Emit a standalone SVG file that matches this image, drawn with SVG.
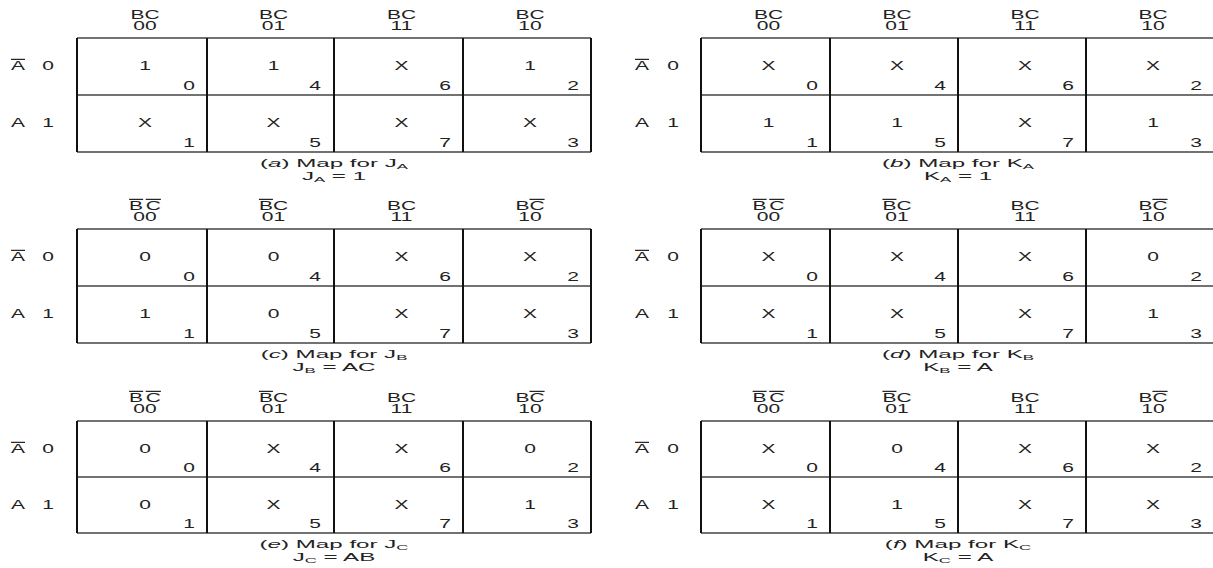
<svg xmlns="http://www.w3.org/2000/svg" width="1213" height="568" viewBox="0 0 1213 568">
<style>
text{font-family:"Liberation Sans",Arial,Helvetica,sans-serif;font-size:12px;fill:#222;text-anchor:middle}
text.s{text-anchor:start}
text.e{text-anchor:end}
text.c{font-size:11.5px}
.ol{text-decoration:overline}
.sub{font-size:8px}
.it{font-style:italic}
.v{stroke:#111;stroke-width:2;fill:none}
.h{stroke:#444;stroke-width:1.3;fill:none}
</style>
<rect width="1213" height="568" fill="#fff"/>

<g id="map-a">
<g class="grid"><path class="h" d="M77 38H591M77 95H592M77 152H591"/><path class="v" d="M77 38V152M207 38V152M334 38V152M463 38V152M591 38V152"/></g>
<text transform="translate(145,19) scale(1.75,1)">BC</text><text transform="translate(145,30) scale(1.75,1)">00</text>
<text transform="translate(273.5,19) scale(1.75,1)">BC</text><text transform="translate(273.5,30) scale(1.75,1)">01</text>
<text transform="translate(401.5,19) scale(1.75,1)">BC</text><text transform="translate(401.5,30) scale(1.75,1)">11</text>
<text transform="translate(530,19) scale(1.75,1)">BC</text><text transform="translate(530,30) scale(1.75,1)">10</text>
<text class="s" transform="translate(11,70) scale(1.75,1)"><tspan class="ol">A</tspan></text><text transform="translate(48,70) scale(1.75,1)">0</text>
<text class="s" transform="translate(11,127) scale(1.75,1)">A</text><text transform="translate(48,127) scale(1.75,1)">1</text>
<text transform="translate(145,70) scale(1.75,1)">1</text><text transform="translate(273.5,70) scale(1.75,1)">1</text><text transform="translate(401.5,70) scale(1.75,1)">X</text><text transform="translate(530,70) scale(1.75,1)">1</text>
<text transform="translate(145,127) scale(1.75,1)">X</text><text transform="translate(273.5,127) scale(1.75,1)">X</text><text transform="translate(401.5,127) scale(1.75,1)">X</text><text transform="translate(530,127) scale(1.75,1)">X</text>
<text class="e" transform="translate(195,90) scale(1.75,1)">0</text><text class="e" transform="translate(321,90) scale(1.75,1)">4</text><text class="e" transform="translate(451,90) scale(1.75,1)">6</text><text class="e" transform="translate(579,90) scale(1.75,1)">2</text>
<text class="e" transform="translate(195,147) scale(1.75,1)">1</text><text class="e" transform="translate(321,147) scale(1.75,1)">5</text><text class="e" transform="translate(451,147) scale(1.75,1)">7</text><text class="e" transform="translate(579,147) scale(1.75,1)">3</text>
<text class="c" transform="translate(334,167) scale(2.1,1)">(<tspan class="it">a</tspan>) Map for J<tspan class="sub" dy="2">A</tspan></text>
<text class="c" transform="translate(334,180) scale(2.1,1)">J<tspan class="sub" dy="2">A</tspan><tspan dy="-2"> = 1</tspan></text>
</g>

<g id="map-b">
<g class="grid"><path class="h" d="M701 38H1213M701 95H1213M701 152H1213"/><path class="v" d="M701 38V152M830 38V152M958 38V152M1086 38V152"/></g>
<text transform="translate(768.5,19) scale(1.75,1)">BC</text><text transform="translate(768.5,30) scale(1.75,1)">00</text>
<text transform="translate(897,19) scale(1.75,1)">BC</text><text transform="translate(897,30) scale(1.75,1)">01</text>
<text transform="translate(1025,19) scale(1.75,1)">BC</text><text transform="translate(1025,30) scale(1.75,1)">11</text>
<text transform="translate(1153,19) scale(1.75,1)">BC</text><text transform="translate(1153,30) scale(1.75,1)">10</text>
<text class="s" transform="translate(635,70) scale(1.75,1)"><tspan class="ol">A</tspan></text><text transform="translate(673,70) scale(1.75,1)">0</text>
<text class="s" transform="translate(635,127) scale(1.75,1)">A</text><text transform="translate(673,127) scale(1.75,1)">1</text>
<text transform="translate(768.5,70) scale(1.75,1)">X</text><text transform="translate(897,70) scale(1.75,1)">X</text><text transform="translate(1025,70) scale(1.75,1)">X</text><text transform="translate(1153,70) scale(1.75,1)">X</text>
<text transform="translate(768.5,127) scale(1.75,1)">1</text><text transform="translate(897,127) scale(1.75,1)">1</text><text transform="translate(1025,127) scale(1.75,1)">X</text><text transform="translate(1153,127) scale(1.75,1)">1</text>
<text class="e" transform="translate(818,90) scale(1.75,1)">0</text><text class="e" transform="translate(946,90) scale(1.75,1)">4</text><text class="e" transform="translate(1074,90) scale(1.75,1)">6</text><text class="e" transform="translate(1202,90) scale(1.75,1)">2</text>
<text class="e" transform="translate(818,147) scale(1.75,1)">1</text><text class="e" transform="translate(946,147) scale(1.75,1)">5</text><text class="e" transform="translate(1074,147) scale(1.75,1)">7</text><text class="e" transform="translate(1202,147) scale(1.75,1)">3</text>
<text class="c" transform="translate(958,167) scale(2.1,1)">(<tspan class="it">b</tspan>) Map for K<tspan class="sub" dy="2">A</tspan></text>
<text class="c" transform="translate(958,180) scale(2.1,1)">K<tspan class="sub" dy="2">A</tspan><tspan dy="-2"> = 1</tspan></text>
</g>

<g id="map-c">
<g class="grid"><path class="h" d="M77 229H591M77 286H592M77 343H591"/><path class="v" d="M77 229V343M207 229V343M334 229V343M463 229V343M591 229V343"/></g>
<text transform="translate(145,210) scale(1.75,1)"><tspan class="ol">B</tspan><tspan class="ol" dx="1.5">C</tspan></text><text transform="translate(145,221) scale(1.75,1)">00</text>
<text transform="translate(273.5,210) scale(1.75,1)"><tspan class="ol">B</tspan>C</text><text transform="translate(273.5,221) scale(1.75,1)">01</text>
<text transform="translate(401.5,210) scale(1.75,1)">BC</text><text transform="translate(401.5,221) scale(1.75,1)">11</text>
<text transform="translate(530,210) scale(1.75,1)">B<tspan class="ol">C</tspan></text><text transform="translate(530,221) scale(1.75,1)">10</text>
<text class="s" transform="translate(11,261) scale(1.75,1)"><tspan class="ol">A</tspan></text><text transform="translate(48,261) scale(1.75,1)">0</text>
<text class="s" transform="translate(11,318) scale(1.75,1)">A</text><text transform="translate(48,318) scale(1.75,1)">1</text>
<text transform="translate(145,261) scale(1.75,1)">0</text><text transform="translate(273.5,261) scale(1.75,1)">0</text><text transform="translate(401.5,261) scale(1.75,1)">X</text><text transform="translate(530,261) scale(1.75,1)">X</text>
<text transform="translate(145,318) scale(1.75,1)">1</text><text transform="translate(273.5,318) scale(1.75,1)">0</text><text transform="translate(401.5,318) scale(1.75,1)">X</text><text transform="translate(530,318) scale(1.75,1)">X</text>
<text class="e" transform="translate(195,281) scale(1.75,1)">0</text><text class="e" transform="translate(321,281) scale(1.75,1)">4</text><text class="e" transform="translate(451,281) scale(1.75,1)">6</text><text class="e" transform="translate(579,281) scale(1.75,1)">2</text>
<text class="e" transform="translate(195,338) scale(1.75,1)">1</text><text class="e" transform="translate(321,338) scale(1.75,1)">5</text><text class="e" transform="translate(451,338) scale(1.75,1)">7</text><text class="e" transform="translate(579,338) scale(1.75,1)">3</text>
<text class="c" transform="translate(334,358) scale(2.1,1)">(<tspan class="it">c</tspan>) Map for J<tspan class="sub" dy="2">B</tspan></text>
<text class="c" transform="translate(334,371) scale(2.1,1)">J<tspan class="sub" dy="2">B</tspan><tspan dy="-2"> = AC</tspan></text>
</g>

<g id="map-d">
<g class="grid"><path class="h" d="M701 229H1213M701 286H1213M701 343H1213"/><path class="v" d="M701 229V343M830 229V343M958 229V343M1086 229V343"/></g>
<text transform="translate(768.5,210) scale(1.75,1)"><tspan class="ol">B</tspan><tspan class="ol" dx="1.5">C</tspan></text><text transform="translate(768.5,221) scale(1.75,1)">00</text>
<text transform="translate(897,210) scale(1.75,1)"><tspan class="ol">B</tspan>C</text><text transform="translate(897,221) scale(1.75,1)">01</text>
<text transform="translate(1025,210) scale(1.75,1)">BC</text><text transform="translate(1025,221) scale(1.75,1)">11</text>
<text transform="translate(1153,210) scale(1.75,1)">B<tspan class="ol">C</tspan></text><text transform="translate(1153,221) scale(1.75,1)">10</text>
<text class="s" transform="translate(635,261) scale(1.75,1)"><tspan class="ol">A</tspan></text><text transform="translate(673,261) scale(1.75,1)">0</text>
<text class="s" transform="translate(635,318) scale(1.75,1)">A</text><text transform="translate(673,318) scale(1.75,1)">1</text>
<text transform="translate(768.5,261) scale(1.75,1)">X</text><text transform="translate(897,261) scale(1.75,1)">X</text><text transform="translate(1025,261) scale(1.75,1)">X</text><text transform="translate(1153,261) scale(1.75,1)">0</text>
<text transform="translate(768.5,318) scale(1.75,1)">X</text><text transform="translate(897,318) scale(1.75,1)">X</text><text transform="translate(1025,318) scale(1.75,1)">X</text><text transform="translate(1153,318) scale(1.75,1)">1</text>
<text class="e" transform="translate(818,281) scale(1.75,1)">0</text><text class="e" transform="translate(946,281) scale(1.75,1)">4</text><text class="e" transform="translate(1074,281) scale(1.75,1)">6</text><text class="e" transform="translate(1202,281) scale(1.75,1)">2</text>
<text class="e" transform="translate(818,338) scale(1.75,1)">1</text><text class="e" transform="translate(946,338) scale(1.75,1)">5</text><text class="e" transform="translate(1074,338) scale(1.75,1)">7</text><text class="e" transform="translate(1202,338) scale(1.75,1)">3</text>
<text class="c" transform="translate(958,358) scale(2.1,1)">(<tspan class="it">d</tspan>) Map for K<tspan class="sub" dy="2">B</tspan></text>
<text class="c" transform="translate(958,371) scale(2.1,1)">K<tspan class="sub" dy="2">B</tspan><tspan dy="-2"> = A</tspan></text>
</g>

<g id="map-e">
<g class="grid"><path class="h" d="M77 421H591M77 477H592M77 533H591"/><path class="v" d="M77 421V533M207 421V533M334 421V533M463 421V533M591 421V533"/></g>
<text transform="translate(145,402) scale(1.75,1)"><tspan class="ol">B</tspan><tspan class="ol" dx="1.5">C</tspan></text><text transform="translate(145,413) scale(1.75,1)">00</text>
<text transform="translate(273.5,402) scale(1.75,1)"><tspan class="ol">B</tspan>C</text><text transform="translate(273.5,413) scale(1.75,1)">01</text>
<text transform="translate(401.5,402) scale(1.75,1)">BC</text><text transform="translate(401.5,413) scale(1.75,1)">11</text>
<text transform="translate(530,402) scale(1.75,1)">B<tspan class="ol">C</tspan></text><text transform="translate(530,413) scale(1.75,1)">10</text>
<text class="s" transform="translate(11,453) scale(1.75,1)"><tspan class="ol">A</tspan></text><text transform="translate(48,453) scale(1.75,1)">0</text>
<text class="s" transform="translate(11,509) scale(1.75,1)">A</text><text transform="translate(48,509) scale(1.75,1)">1</text>
<text transform="translate(145,453) scale(1.75,1)">0</text><text transform="translate(273.5,453) scale(1.75,1)">X</text><text transform="translate(401.5,453) scale(1.75,1)">X</text><text transform="translate(530,453) scale(1.75,1)">0</text>
<text transform="translate(145,509) scale(1.75,1)">0</text><text transform="translate(273.5,509) scale(1.75,1)">X</text><text transform="translate(401.5,509) scale(1.75,1)">X</text><text transform="translate(530,509) scale(1.75,1)">1</text>
<text class="e" transform="translate(195,472) scale(1.75,1)">0</text><text class="e" transform="translate(321,472) scale(1.75,1)">4</text><text class="e" transform="translate(451,472) scale(1.75,1)">6</text><text class="e" transform="translate(579,472) scale(1.75,1)">2</text>
<text class="e" transform="translate(195,528) scale(1.75,1)">1</text><text class="e" transform="translate(321,528) scale(1.75,1)">5</text><text class="e" transform="translate(451,528) scale(1.75,1)">7</text><text class="e" transform="translate(579,528) scale(1.75,1)">3</text>
<text class="c" transform="translate(334,548) scale(2.1,1)">(<tspan class="it">e</tspan>) Map for J<tspan class="sub" dy="2">C</tspan></text>
<text class="c" transform="translate(334,561) scale(2.1,1)">J<tspan class="sub" dy="2">C</tspan><tspan dy="-2"> = AB</tspan></text>
</g>

<g id="map-f">
<g class="grid"><path class="h" d="M701 421H1213M701 477H1213M701 533H1213"/><path class="v" d="M701 421V533M830 421V533M958 421V533M1086 421V533"/></g>
<text transform="translate(768.5,402) scale(1.75,1)"><tspan class="ol">B</tspan><tspan class="ol" dx="1.5">C</tspan></text><text transform="translate(768.5,413) scale(1.75,1)">00</text>
<text transform="translate(897,402) scale(1.75,1)"><tspan class="ol">B</tspan>C</text><text transform="translate(897,413) scale(1.75,1)">01</text>
<text transform="translate(1025,402) scale(1.75,1)">BC</text><text transform="translate(1025,413) scale(1.75,1)">11</text>
<text transform="translate(1153,402) scale(1.75,1)">B<tspan class="ol">C</tspan></text><text transform="translate(1153,413) scale(1.75,1)">10</text>
<text class="s" transform="translate(635,453) scale(1.75,1)"><tspan class="ol">A</tspan></text><text transform="translate(673,453) scale(1.75,1)">0</text>
<text class="s" transform="translate(635,509) scale(1.75,1)">A</text><text transform="translate(673,509) scale(1.75,1)">1</text>
<text transform="translate(768.5,453) scale(1.75,1)">X</text><text transform="translate(897,453) scale(1.75,1)">0</text><text transform="translate(1025,453) scale(1.75,1)">X</text><text transform="translate(1153,453) scale(1.75,1)">X</text>
<text transform="translate(768.5,509) scale(1.75,1)">X</text><text transform="translate(897,509) scale(1.75,1)">1</text><text transform="translate(1025,509) scale(1.75,1)">X</text><text transform="translate(1153,509) scale(1.75,1)">X</text>
<text class="e" transform="translate(818,472) scale(1.75,1)">0</text><text class="e" transform="translate(946,472) scale(1.75,1)">4</text><text class="e" transform="translate(1074,472) scale(1.75,1)">6</text><text class="e" transform="translate(1202,472) scale(1.75,1)">2</text>
<text class="e" transform="translate(818,528) scale(1.75,1)">1</text><text class="e" transform="translate(946,528) scale(1.75,1)">5</text><text class="e" transform="translate(1074,528) scale(1.75,1)">7</text><text class="e" transform="translate(1202,528) scale(1.75,1)">3</text>
<text class="c" transform="translate(958,548) scale(2.1,1)">(<tspan class="it">f</tspan>) Map for K<tspan class="sub" dy="2">C</tspan></text>
<text class="c" transform="translate(958,561) scale(2.1,1)">K<tspan class="sub" dy="2">C</tspan><tspan dy="-2"> = A</tspan></text>
</g>
</svg>
